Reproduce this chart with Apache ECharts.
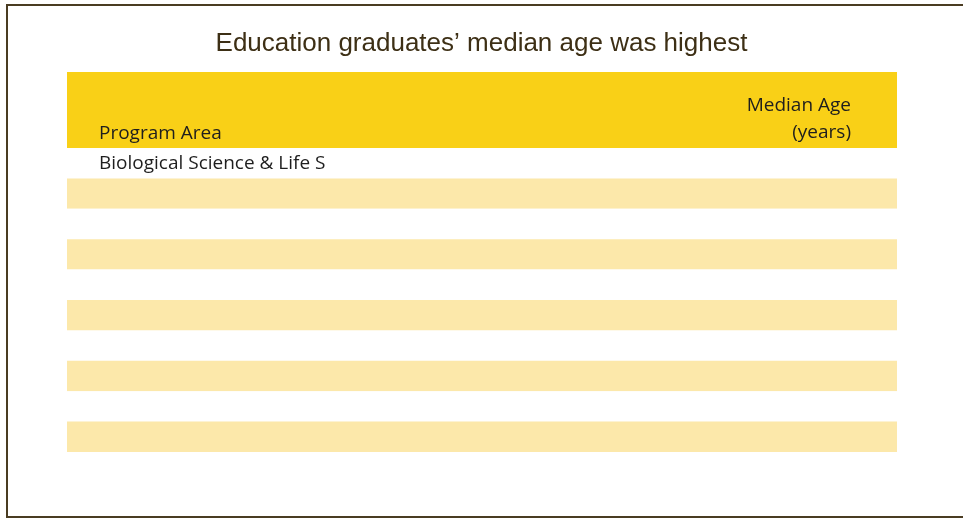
<!DOCTYPE html>
<html>
<head>
<meta charset="utf-8">
<style>
  html, body { margin: 0; padding: 0; background: #fff; }
  #chart { width: 963px; height: 519px; }
</style>
<script src="https://cdn.jsdelivr.net/npm/echarts@6/dist/echarts.min.js"></script>
</head>
<body>
<div id="chart"></div>
<script>
// Table rows (only the first program area made it into the picture)
const programAreas = ["Biological Science & Life S", "", "", "", "", "", "", "", "", ""];
const medianAges = [null, null, null, null, null, null, null, null, null, null];
const headers = ["Program Area", "Median Age\n(years)"];
const titleText = "Education graduates\u2019 median age was highest";

function drawChart(id) {
  var dom = document.getElementById(id);
  var myChart = echarts.init(dom, null, { renderer: "canvas" });

  var option = {
    animation: false,
    title: {
      text: titleText,
      left: "center",
      top: 26,
      textStyle: {
        fontFamily: "Liberation Sans",
        fontSize: 26,
        fontWeight: "normal",
        color: "#3d2f15",
      },
    },
    grid: { left: 67, right: 66, top: 148, bottom: 67 },
    xAxis: {
      type: "value",
      min: 0,
      max: 100,
      show: false,
    },
    yAxis: {
      type: "category",
      inverse: true,
      data: programAreas,
      axisLine: { show: false },
      axisTick: { show: false },
      splitLine: { show: false },
      splitArea: {
        show: true,
        areaStyle: { color: ["#ffffff", "#fce8aa"] },
      },
      axisLabel: {
        inside: true,
        margin: 32,
        fontFamily: "Open Sans",
        fontSize: 19,
        color: "#1e1e1e",
      },
    },
    series: [
      {
        type: "scatter",
        data: medianAges,
        symbolSize: 0,
      },
    ],
    graphic: [
      {
        type: "rect",
        shape: { x: 7, y: 5, width: 1000, height: 512 },
        style: { fill: "none", stroke: "#4a3c22", lineWidth: 2 },
        silent: true,
      },
      {
        type: "rect",
        shape: { x: 67, y: 72, width: 830, height: 76 },
        style: { fill: "#f9d017" },
        silent: true,
      },
      {
        type: "text",
        x: 99,
        y: 143,
        style: {
          text: headers[0],
          fontFamily: "Open Sans",
          fontSize: 19,
          fill: "#1e1e1e",
          textAlign: "left",
          textVerticalAlign: "bottom",
        },
      },
      {
        type: "text",
        x: 851,
        y: 92,
        style: {
          text: headers[1],
          fontFamily: "Open Sans",
          fontSize: 19,
          lineHeight: 27,
          fill: "#1e1e1e",
          textAlign: "right",
          textVerticalAlign: "top",
        },
      },
    ],
  };

  myChart.setOption(option);
  window.addEventListener("resize", myChart.resize);
}

drawChart("chart");
</script>
</body>
</html>
